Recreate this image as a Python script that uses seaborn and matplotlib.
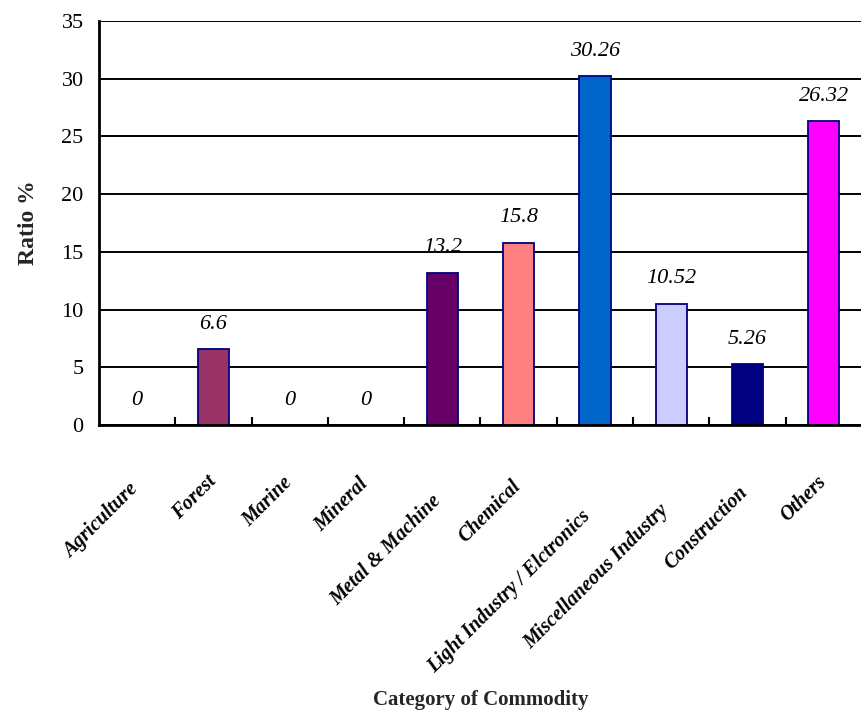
import matplotlib
matplotlib.use("Agg")
import matplotlib.pyplot as plt
import matplotlib.transforms as mtransforms
import seaborn as sns
import pandas as pd
from matplotlib.ticker import FixedLocator

categories = ["Agriculture", "Forest", "Marine", "Mineral", "Metal & Machine",
              "Chemical", "Light Industry / Elctronics", "Miscellaneous Industry",
              "Construction", "Others"]
ratios = [0, 6.6, 0, 0, 13.2, 15.8, 30.26, 10.52, 5.26, 26.32]
value_labels = ["0", "6.6", "0", "0", "13.2", "15.8", "30.26", "10.52", "5.26", "26.32"]
bar_colors = ["#9999FF", "#993366", "#FFFFCC", "#CCFFFF", "#660066",
              "#FF8080", "#0066CC", "#CCCCFF", "#000080", "#FF00FF"]

sns.set_theme(style="white")
plt.rcParams["font.family"] = ["Liberation Serif", "DejaVu Serif"]

df = pd.DataFrame({"category": categories, "ratio": ratios})

fig = plt.figure(figsize=(8.62, 7.16), dpi=100)
ax = fig.add_axes([0.1148, 0.4064, 0.8852, 0.5643])

sns.barplot(data=df, x="category", y="ratio", hue="category",
            palette=dict(zip(categories, bar_colors)), order=categories,
            width=0.41, saturation=1, edgecolor="#000080", linewidth=1.3,
            legend=False, ax=ax, zorder=3)

# zero-height bars carry only their value label
for patch, v in zip(ax.patches, ratios):
    if v == 0:
        patch.set_visible(False)

ax.set_xlim(-0.5, len(categories) - 0.5)
ax.set_ylim(0, 35)
ax.set_yticks(range(0, 36, 5))
ax.yaxis.grid(True, color="black", linewidth=1.4)
ax.set_axisbelow(True)

for spine in ["top", "right"]:
    ax.spines[spine].set_visible(False)
for spine in ["left", "bottom"]:
    ax.spines[spine].set_color("black")
    ax.spines[spine].set_linewidth(2)
    ax.spines[spine].set_zorder(4)

ax.tick_params(axis="y", length=0, labelsize=16, pad=11, colors="black")
ax.set_xticks(range(len(categories)))
ax.set_xticklabels([])
ax.tick_params(axis="x", which="major", length=0)
ax.xaxis.set_minor_locator(FixedLocator([i + 0.5 for i in range(len(categories) - 1)]))
ax.tick_params(axis="x", which="minor", direction="in", length=6, width=1.5,
               color="black", bottom=True)

# value labels above each bar
for i, (v, txt) in enumerate(zip(ratios, value_labels)):
    ax.annotate(txt, (i, v), xytext=(0, 14.5), textcoords="offset points",
                ha="center", va="baseline", fontsize=16, fontstyle="italic",
                color="black")

# slanted category labels; longer names sit a little lower
fig.canvas.draw()
renderer = fig.canvas.get_renderer()
label_kw = dict(fontsize=14.5, fontweight="bold", fontstyle="italic", color="black")
for i, name in enumerate(categories):
    probe = ax.text(0, 0, name, **label_kw)
    length = probe.get_window_extent(renderer).width
    probe.remove()
    trans = mtransforms.offset_copy(ax.get_xaxis_transform(), fig=fig,
                                    x=2 - 0.04 * length, y=-(42 + 0.21 * length),
                                    units="dots")
    ax.text(i, 0, name, transform=trans, rotation=45, rotation_mode="anchor",
            ha="right", va="center", **label_kw)

ax.set_ylabel("Ratio %", fontsize=17, fontweight="bold", labelpad=16)
ax.set_xlabel("")
fig.text(0.558, 0.022, "Category of Commodity", ha="center", va="center",
         fontsize=15, fontweight="bold")

fig.savefig("out.png", dpi=100)
